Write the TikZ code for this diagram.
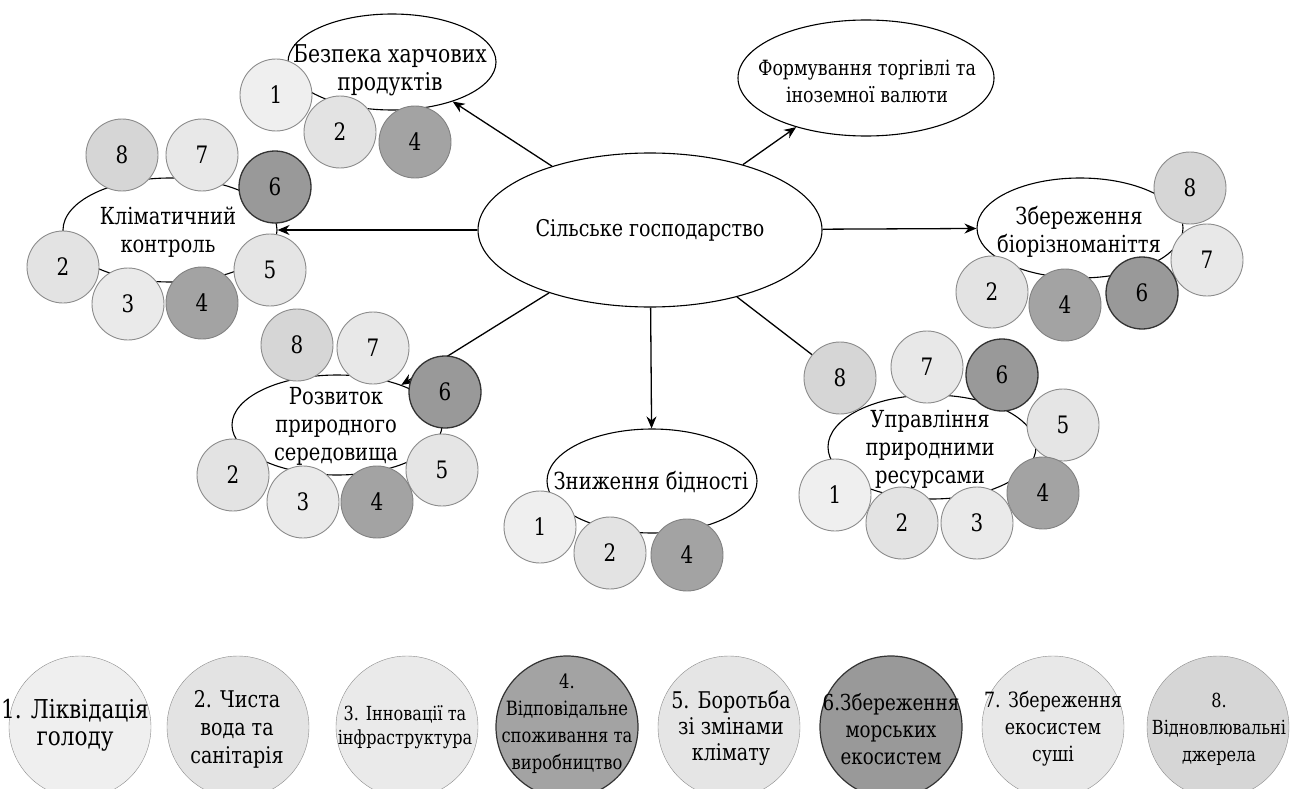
\documentclass[tikz,border=0pt]{standalone}
\usepackage{fontspec}
\setmainfont{DejaVu Serif}[FakeStretch=0.83]
\usetikzlibrary{shapes.geometric,arrows.meta}
\definecolor{cA}{HTML}{EFEFEF}
\definecolor{cB}{HTML}{E3E3E3}
\definecolor{cC}{HTML}{EAEAEA}
\definecolor{cD}{HTML}{A3A3A3}
\definecolor{cE}{HTML}{E5E5E5}
\definecolor{cF}{HTML}{999999}
\definecolor{cG}{HTML}{E8E8E8}
\definecolor{cH}{HTML}{D6D6D6}
\definecolor{rimL}{HTML}{8C8C8C}
\definecolor{rimD}{HTML}{333333}
\tikzset{
  big/.style={ellipse, draw=black, line width=1.1pt, fill=white, inner sep=0pt},
  lbl/.style={align=center, inner sep=0pt, font=\fontsize{23.5}{28}\selectfont},
  num/.style={circle, draw=rimL, line width=0.9pt, minimum size=72pt, inner sep=0pt, font=\fontsize{24}{26}\selectfont},
  n1/.style={num, fill=cA}, n2/.style={num, fill=cB}, n3/.style={num, fill=cC},
  n4/.style={num, fill=cD, draw=cD!80!black}, n5/.style={num, fill=cE},
  n6/.style={num, fill=cF, draw=rimD, line width=1.3pt},
  n7/.style={num, fill=cG}, n8/.style={num, fill=cH},
  leg/.style={circle, minimum size=142pt, inner sep=0pt},
  ltx/.style={align=center, inner sep=0pt},
  arr/.style={-{Stealth[length=12pt,width=10pt]}, line width=1.3pt},
}
\begin{document}
\begin{tikzpicture}[x=1pt,y=-1pt]
\useasboundingbox (0,0) rectangle (1290,789);
\fill[white] (0,0) rectangle (1290,789);
% main ellipses
\node[big, minimum width=344pt, minimum height=154pt] (agri) at (650,230) {};
\node[lbl, font=\fontsize{23}{28}\selectfont] (agriT) at (650,230) {Сільське господарство};
\node[big, minimum width=208pt, minimum height=96pt] (food) at (392,62) {};
\node[big, minimum width=256pt, minimum height=116pt] (trade) at (866,78) {};
\node[big, minimum width=214pt, minimum height=104pt] (clim) at (170,230) {};
\node[big, minimum width=206pt, minimum height=100pt] (bio) at (1080,228) {};
\node[big, minimum width=210pt, minimum height=100pt] (env) at (337,425) {};
\node[big, minimum width=210pt, minimum height=104pt] (pov) at (652,481) {};
\node[big, minimum width=208pt, minimum height=104pt] (res) at (932,447) {};
% arrows
\draw[arr] (agri) -- (food);
\draw[arr] (agri) -- (trade);
\draw[arr] (agri) -- (clim);
\draw[arr] (agri) -- (bio);
\draw[arr] (agri) -- (env);
\draw[arr] (agri) -- (pov);
\draw[arr, shorten >=32pt] (agri) -- (res);
% labels
\node[lbl, font=\fontsize{24.5}{28}\selectfont] (foodT) at (390,70) {Безпека харчових\\продуктів};
\node[lbl, font=\fontsize{21}{27}\selectfont] (tradeT) at (867,81) {Формування торгівлі та\\іноземної валюти};
\node[lbl] (climT) at (168,232) {Кліматичний\\контроль};
\node[lbl] (bioT) at (1079,232) {Збереження\\біорізноманіття};
\node[lbl] (envT) at (336,426) {Розвиток\\природного\\середовища};
\node[lbl] (povT) at (651,482) {Зниження бідності};
\node[lbl] (resT) at (930,449) {Управління\\природними\\ресурсами};
% food safety circles
\node[n1] (f1) at (276,95) {1};
\node[n2] (f2) at (340,132) {2};
\node[n4] (f4) at (415,142) {4};
% climate circles
\node[n8] (c8) at (122,155) {8};
\node[n7] (c7) at (202,155) {7};
\node[n6] (c6) at (275,187) {6};
\node[n5] (c5) at (270,270) {5};
\node[n2] (c2) at (63,267) {2};
\node[n3] (c3) at (128,304) {3};
\node[n4] (c4) at (202,303) {4};
% biodiversity circles
\node[n8] (b8) at (1190,188) {8};
\node[n7] (b7) at (1207,260) {7};
\node[n2] (b2) at (992,292) {2};
\node[n4] (b4) at (1065,305) {4};
\node[n6] (b6) at (1142,293) {6};
% environment circles
\node[n8] (e8) at (297,345) {8};
\node[n7] (e7) at (373,348) {7};
\node[n6] (e6) at (445,392) {6};
\node[n5] (e5) at (442,470) {5};
\node[n2] (e2) at (233,475) {2};
\node[n3] (e3) at (303,502) {3};
\node[n4] (e4) at (377,502) {4};
% poverty circles
\node[n1] (p1) at (540,527) {1};
\node[n2] (p2) at (610,553) {2};
\node[n4] (p4) at (687,555) {4};
% resources circles
\node[n8] (r8) at (840,378) {8};
\node[n7] (r7) at (927,367) {7};
\node[n6] (r6) at (1002,375) {6};
\node[n5] (r5) at (1063,425) {5};
\node[n4] (r4) at (1043,493) {4};
\node[n1] (r1) at (835,495) {1};
\node[n2] (r2) at (902,523) {2};
\node[n3] (r3) at (977,523) {3};
% legend
\node[leg, fill=cA, draw=rimL] (l1) at (80,727) {};
\node[leg, fill=cB, draw=rimL] (l2) at (238,727) {};
\node[leg, fill=cC, draw=rimL] (l3) at (407,727) {};
\node[leg, fill=cD, draw=rimD, line width=1.2pt] (l4) at (567,727) {};
\node[leg, fill=cE, draw=rimL] (l5) at (729,727) {};
\node[leg, fill=cF, draw=rimD, line width=1.2pt] (l6) at (891,727) {};
\node[leg, fill=cG, draw=rimL] (l7) at (1053,727) {};
\node[leg, fill=cH, draw=rimL] (l8) at (1218,727) {};
\node[ltx, font=\fontsize{26}{27}\selectfont] (l1T) at (75,725) {1. Ліквідація\\голоду};
\node[ltx, font=\fontsize{23}{28}\selectfont] (l2T) at (237,729) {2. Чиста\\вода та\\санітарія};
\node[ltx, font=\fontsize{19.4}{24}\selectfont] (l3T) at (405,727) {3. Інновації та\\інфраструктура};
\node[ltx, font=\fontsize{19.7}{27}\selectfont] (l4T) at (567,724) {4.\\Відповідальне\\споживання та\\виробництво};
\node[ltx, font=\fontsize{23}{26}\selectfont] (l5T) at (731,728) {5. Боротьба\\зі змінами\\клімату};
\node[ltx, font=\fontsize{22}{27}\selectfont] (l6T) at (891,729) {6.Збереження\\морських\\екосистем};
\node[ltx, font=\fontsize{21}{27}\selectfont] (l7T) at (1053,729) {7. Збереження\\екосистем\\суші};
\node[ltx, font=\fontsize{19.4}{27}\selectfont] (l8T) at (1219,729) {8.\\Відновлювальні\\джерела};
\end{tikzpicture}
\end{document}
